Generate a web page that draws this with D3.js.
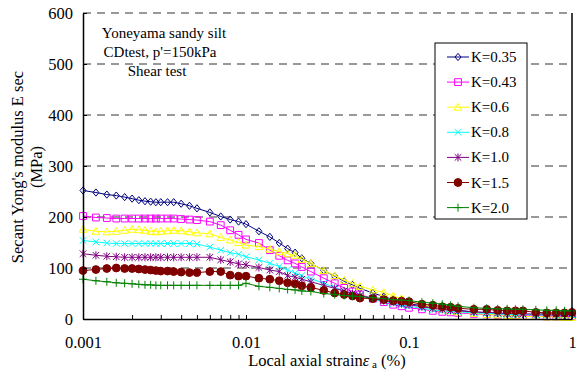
<!DOCTYPE html>
<html>
<head>
<meta charset="utf-8">
<script src="https://cdn.jsdelivr.net/npm/d3@7"></script>
<style>
  body { margin: 0; background: #fff; }
  svg { font-family: "Times New Roman", "Liberation Serif", serif; }
</style>
</head>
<body>
<div id="chart"></div>
<script>
const width = 576;
const height = 371;
const margin = { top: 13, right: 4, bottom: 52, left: 83 };

// Data
const strain = [0.001, 0.0012, 0.0014, 0.0016, 0.0018, 0.002, 0.0022, 0.0024, 0.0026, 0.0028,
  0.003, 0.0033, 0.0036, 0.004, 0.0045, 0.005, 0.006, 0.007, 0.008, 0.009,
  0.01, 0.012, 0.014, 0.016, 0.018, 0.02, 0.022, 0.025, 0.03, 0.035,
  0.04, 0.045, 0.05, 0.06, 0.07, 0.08, 0.09, 0.1, 0.12, 0.14,
  0.16, 0.18, 0.2, 0.25, 0.3, 0.35, 0.4, 0.45, 0.5, 0.6,
  0.7, 0.8, 0.9, 1];
const k035 = [252, 248, 244, 242, 239, 236, 233, 231, 230, 229,
  229, 229, 229, 226, 222, 217, 209, 201, 195, 191,
  186, 172, 161, 149, 138, 130, 119, 109, 95, 84,
  74, 67, 60, 51, 44, 38, 34, 30, 26, 23,
  20, 18, 17, 14, 12, 11, 10, 9, 9, 8,
  8, 7, 7, 7];
const k043 = [202, 199, 198, 197, 197, 197, 197, 197, 197, 197,
  197, 197, 197, 196, 195, 194, 191, 184, 174, 165,
  156, 149, 135, 124, 115, 109, 102, 93, 80, 70,
  61, 54, 48, 40, 33, 28, 25, 22, 19, 16,
  14, 13, 12, 10, 9, 8, 7, 7, 6, 6,
  5, 5, 5, 5];
const k06 = [176, 172, 171, 172, 174, 176, 175, 174, 172, 171,
  172, 173, 174, 173, 171, 169, 167, 160, 155, 150,
  145, 142, 137, 132, 128, 125, 117, 109, 95, 85,
  76, 70, 64, 57, 52, 45, 40, 35, 28, 23,
  19, 16, 14, 11, 9, 8, 7, 6, 5, 5,
  4, 4, 3, 3];
const k08 = [154, 151, 149, 148, 148, 148, 148, 148, 148, 148,
  148, 148, 148, 148, 148, 147, 141, 135, 130, 127,
  122, 116, 109, 103, 96, 90, 85, 79, 70, 62,
  55, 50, 46, 39, 34, 30, 27, 25, 21, 18,
  16, 15, 14, 12, 11, 10, 9, 9, 9, 8,
  8, 8, 8, 8];
const k10 = [128, 125, 123, 122, 121, 121, 121, 121, 121, 121,
  121, 121, 121, 121, 121, 121, 121, 116, 112, 108,
  106, 101, 96, 93, 85, 82, 78, 73, 66, 60,
  55, 50, 46, 40, 36, 33, 30, 28, 24, 21,
  19, 17, 16, 14, 13, 12, 11, 11, 10, 10,
  10, 10, 10, 10];
const k15 = [95, 97, 99, 100, 99, 99, 98, 97, 96, 95,
  94, 94, 93, 92, 91, 91, 93, 93, 86, 84,
  84, 80, 78, 75, 71, 69, 65, 62, 56, 51,
  48, 45, 41, 40, 38, 36, 35, 34, 29, 27,
  24, 23, 21, 19, 19, 17, 16, 16, 16, 13,
  12, 12, 12, 13];
const k20 = [78, 75, 73, 71, 70, 69, 68, 67, 67, 66,
  66, 66, 66, 66, 66, 66, 66, 66, 66, 66,
  70, 64, 62, 60, 58, 57, 55, 54, 50, 48,
  46, 45, 44, 42, 40, 38, 37, 36, 33, 31,
  29, 27, 25, 22, 21, 20, 20, 19, 19, 18,
  17, 17, 16, 16];

const seriesNames = ["K=0.35", "K=0.43", "K=0.6", "K=0.8", "K=1.0", "K=1.5", "K=2.0"];
const seriesValues = [k035, k043, k06, k08, k10, k15, k20];
const colors = ["#000080", "#ff00ff", "#ffff00", "#00ffff", "#800080", "#800000", "#008000"];
const markers = ["diamond", "square", "triangle", "x", "star", "circle", "plus"];

const xTickLabels = [0.001, 0.01, 0.1, 1];
const yTicks = [0, 100, 200, 300, 400, 500, 600];

const series = seriesNames.map((name, i) => ({
  name,
  color: colors[i],
  marker: markers[i],
  points: strain.map((s, j) => ({ x: s, y: seriesValues[i][j] }))
}));

const svg = d3.select("#chart").append("svg")
  .attr("width", width)
  .attr("height", height);

const x = d3.scaleLog()
  .domain([0.001, 1])
  .range([margin.left, width - margin.right]);
const y = d3.scaleLinear()
  .domain([0, 600])
  .range([height - margin.bottom, margin.top]);

// Dashed grid
svg.append("g")
  .selectAll("line")
  .data(yTicks.filter((d) => d > 0))
  .join("line")
  .attr("x1", x.range()[0])
  .attr("x2", x.range()[1])
  .attr("y1", (d) => y(d))
  .attr("y2", (d) => y(d))
  .attr("stroke", "#333")
  .attr("stroke-dasharray", "8,6");

// Marker paths
function markerPath(type) {
  switch (type) {
    case "diamond": return "M0,-3.6L3,0L0,3.6L-3,0Z";
    case "square": return "M-3.4,-3.4H3.4V3.4H-3.4Z";
    case "triangle": return "M0,-3.8L3.8,3H-3.8Z";
    case "x": return "M-3.3,-3.3L3.3,3.3M-3.3,3.3L3.3,-3.3";
    case "star": return "M-3.3,-3.3L3.3,3.3M-3.3,3.3L3.3,-3.3M0,-4V4";
    case "plus": return "M-4,0H4M0,-4V4";
    default: return null;
  }
}

function drawMarker(g, type, color) {
  if (type === "circle") {
    g.append("circle").attr("r", 3.9).attr("fill", color).attr("stroke", color);
  } else {
    g.append("path").attr("d", markerPath(type))
      .attr("fill", "none")
      .attr("stroke", color)
      .attr("stroke-width", 1);
  }
}

const line = d3.line().x((d) => x(d.x)).y((d) => y(d.y));

// Lines and markers per series
series.forEach((s) => {
  const g = svg.append("g");
  g.append("path")
    .datum(s.points)
    .attr("d", line)
    .attr("fill", "none")
    .attr("stroke", s.color)
    .attr("stroke-width", 1);
  g.selectAll("g")
    .data(s.points)
    .join("g")
    .attr("transform", (d) => `translate(${x(d.x)},${y(d.y)})`)
    .each(function () { drawMarker(d3.select(this), s.marker, s.color); });
});

const fontFamily = "'Times New Roman', 'Liberation Serif', serif";

// X axis with inward minor ticks
const xAxis = d3.axisBottom(x)
  .tickValues(x.ticks())
  .tickSizeInner(-4)
  .tickSizeOuter(0)
  .tickPadding(17)
  .tickFormat((d) => (xTickLabels.some((t) => Math.abs(t - d) < 1e-12) ? d3.format("")(d) : ""));
svg.append("g")
  .attr("transform", `translate(0,${y(0)})`)
  .call(xAxis)
  .call((g) => g.select(".domain").attr("stroke", "#000").attr("stroke-width", 1.5))
  .call((g) => g.selectAll("text").attr("font-size", 16.5).attr("font-family", fontFamily).attr("fill", "#000"));

// Y axis
const yAxis = d3.axisLeft(y)
  .tickValues(yTicks)
  .tickSizeInner(-4)
  .tickSizeOuter(0)
  .tickPadding(10);
svg.append("g")
  .attr("transform", `translate(${x.range()[0]},0)`)
  .call(yAxis)
  .call((g) => g.select(".domain").attr("stroke", "#000").attr("stroke-width", 1.5))
  .call((g) => g.selectAll("text").attr("font-size", 16.5).attr("font-family", fontFamily).attr("fill", "#000"));

// Right frame line
svg.append("line")
  .attr("x1", x.range()[1]).attr("x2", x.range()[1])
  .attr("y1", y(600)).attr("y2", y(0))
  .attr("stroke", "#000")
  .attr("stroke-width", 1.5);

// Axis titles
const yTitle = svg.append("text")
  .attr("transform", "translate(23,167) rotate(-90)")
  .attr("text-anchor", "middle")
  .attr("font-size", 16.5);
yTitle.append("tspan").attr("x", 0).attr("dy", 0).text("Secant  Yong's modulus E sec");
yTitle.append("tspan").attr("x", 0).attr("dy", 19).text("(MPa)");

const xTitle = svg.append("text")
  .attr("x", 327)
  .attr("y", 366)
  .attr("text-anchor", "middle")
  .attr("font-size", 16.5);
xTitle.append("tspan").text("Local axial strain");
xTitle.append("tspan").attr("font-style", "italic").text("ε");
xTitle.append("tspan").attr("font-size", 11).attr("dy", 1.5).text(" a");
xTitle.append("tspan").attr("dy", -1.5).text(" (%)");

// Annotation
const notes = ["Yoneyama sandy silt", "CDtest, p'=150kPa", "Shear test"];
svg.append("g")
  .selectAll("text")
  .data(notes)
  .join("text")
  .attr("x", (d, i) => [164, 160, 157][i])
  .attr("y", (d, i) => 38 + i * 19)
  .attr("text-anchor", "middle")
  .attr("font-size", 15)
  .text((d) => d);

// Legend
const legend = svg.append("g").attr("transform", "translate(435,43)");
legend.append("rect")
  .attr("width", 92)
  .attr("height", 176)
  .attr("fill", "#fff")
  .attr("stroke", "#000")
  .attr("stroke-width", 1);
series.forEach((s, i) => {
  const row = legend.append("g").attr("transform", `translate(0,${14 + i * 25.1})`);
  row.append("line")
    .attr("x1", 12).attr("x2", 34)
    .attr("stroke", s.color)
    .attr("stroke-width", 1);
  drawMarker(row.append("g").attr("transform", "translate(23,0)"), s.marker, s.color);
  row.append("text")
    .attr("x", 36)
    .attr("y", 5)
    .attr("font-size", 15)
    .text(s.name);
});
</script>
</body>
</html>
